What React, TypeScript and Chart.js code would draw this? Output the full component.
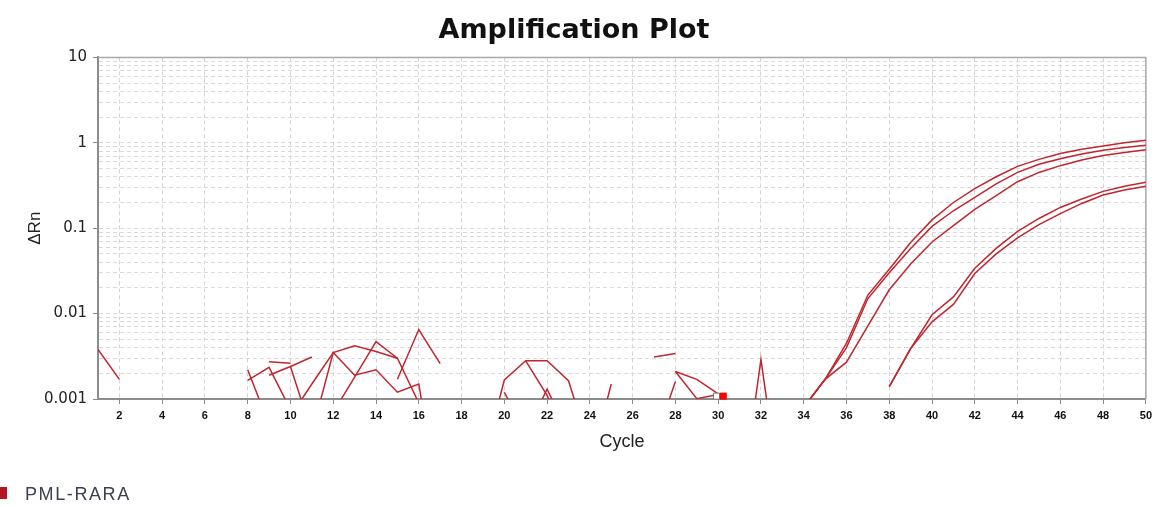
import { useEffect, useRef } from "react";
import { Chart, registerables } from "chart.js";

Chart.register(...registerables);

const _ = null;

// Cycle numbers (x axis)
const cycles = [
  1, 2, 3, 4, 5, 6, 7, 8, 9, 10,
  11, 12, 13, 14, 15, 16, 17, 18, 19, 20,
  21, 22, 23, 24, 25, 26, 27, 28, 29, 30,
  31, 32, 33, 34, 35, 36, 37, 38, 39, 40,
  41, 42, 43, 44, 45, 46, 47, 48, 49, 50,
];

// ΔRn per cycle for each well (null = no positive value, left as a gap)
const wellA = [
  _, _, _, _, _, _, _, 0.0022, 0.0005, 0.00063,
  0.0015, 0.0035, 0.0042, 0.0036, 0.003, _, _, _, 0.00018, 0.00167,
  0.0028, 0.0028, 0.00164, 0.00026, _, _, _, 0.0021, 0.00101, 0.00113,
  _, _, _, 0.0008, 0.0017, 0.0045, 0.0165, 0.033, 0.068, 0.125,
  0.2, 0.29, 0.4, 0.53, 0.64, 0.75, 0.84, 0.92, 1.0, 1.07,
];

const wellB = [
  _, _, _, _, _, _, _, 0.00165, 0.00235, 0.00075,
  _, 0.0007, 0.0018, 0.0047, 0.003, 0.0009, _, _, _, _,
  0.0028, 0.0011, 0.0003, 0.00016, 0.0015, _, _, _, _, _,
  0.000045, 0.0029, 0.00005, 0.0008, 0.0017, 0.004, 0.015, 0.03, 0.058, 0.105,
  0.16, 0.23, 0.33, 0.45, 0.56, 0.65, 0.74, 0.82, 0.88, 0.935,
];

const wellC = [
  0.0038, 0.0017, _, _, _, _, _, _, 0.00273, 0.00262,
  _, _, _, _, _, _, _, _, _, _,
  0.0004, 0.0013, 0.0004, _, _, _, 0.0031, 0.0034, _, _,
  _, _, _, 0.0008, 0.0017, 0.0027, 0.0072, 0.019, 0.038, 0.069,
  0.107, 0.166, 0.24, 0.35, 0.45, 0.54, 0.63, 0.71, 0.77, 0.83,
];

const wellD = [
  _, _, _, _, _, _, _, _, 0.0019, 0.0024,
  0.0031, _, _, _, 0.0017, 0.0065, 0.0026, _, _, 0.0012,
  0.0004, _, _, _, _, _, 0.0003, 0.0016, _, _,
  _, _, _, _, _, _, _, 0.0014, 0.0039, 0.0097,
  0.0157, 0.034, 0.058, 0.092, 0.13, 0.175, 0.22, 0.27, 0.31, 0.345,
];

const wellE = [
  _, _, _, _, _, _, _, _, _, 0.0024,
  0.0004, 0.0035, 0.0019, 0.0022, 0.0012, 0.0015, 0.00005, _, _, _,
  _, _, _, _, _, _, _, 0.0021, 0.0017, 0.00115,
  _, _, _, _, _, _, _, 0.0014, 0.0039, 0.008,
  0.0128, 0.0295, 0.05, 0.077, 0.11, 0.148, 0.195, 0.245, 0.28, 0.31,
];

const wells = [wellA, wellB, wellC, wellD, wellE];
const targetName = "PML-RARA";

// Axis ticks
const xTicks = [2, 4, 6, 8, 10, 12, 14, 16, 18, 20, 22, 24, 26, 28, 30, 32, 34, 36, 38, 40, 42, 44, 46, 48, 50];
const yDecades = [0.001, 0.01, 0.1, 1, 10];
const yDecadeLabels = ["0.001", "0.01", "0.1", "1", "10"];
const yMinorSteps = [2, 3, 4, 5, 6, 7, 8, 9];

// Threshold handle markers on the cycle axis
const markerCycles = [29.92, 30.24];
const markerValues = [0.00108, 0.00108];

const LINE_COLOR = "#c0262f";
const LEGEND_COLOR = "#b3161f";

type TickObj = { value: number; major: boolean; label: string };

function buildYTicks(): TickObj[] {
  const out: TickObj[] = [];
  yDecades.forEach((d, i) => {
    out.push({ value: d, major: true, label: yDecadeLabels[i] });
    if (i < yDecades.length - 1) {
      yMinorSteps.forEach((m) => out.push({ value: d * m, major: false, label: "" }));
    }
  });
  return out;
}

const plotFrame = {
  id: "plotFrame",
  beforeDatasetsDraw(chart: any) {
    const { ctx, chartArea } = chart;
    const { left, right, top, bottom } = chartArea;
    ctx.save();
    ctx.strokeStyle = "#a8a8a8";
    ctx.lineWidth = 1.5;
    ctx.beginPath();
    ctx.moveTo(left, top);
    ctx.lineTo(right, top);
    ctx.lineTo(right, bottom);
    ctx.stroke();
    ctx.restore();
  },
};

export default function App() {
  const canvasRef = useRef<HTMLCanvasElement | null>(null);

  useEffect(() => {
    const canvas = canvasRef.current;
    if (!canvas) return;

    const lineSets = wells.map((vals) => ({
      type: "line" as const,
      label: targetName,
      data: cycles.map((c, i) => ({ x: c, y: vals[i] })),
      borderColor: LINE_COLOR,
      backgroundColor: LINE_COLOR,
      borderWidth: 1.5,
      pointRadius: 0,
      pointHoverRadius: 0,
      spanGaps: false,
      fill: false,
      tension: 0,
      clip: 0,
      order: 1,
    }));

    const markerSets = [
      {
        type: "scatter" as const,
        label: "baseline",
        data: [{ x: markerCycles[0], y: markerValues[0] }],
        pointStyle: "rect",
        pointRadius: 4.3,
        backgroundColor: "#ffffff",
        borderColor: "#777777",
        borderWidth: 1,
        clip: false,
        order: -1,
      },
      {
        type: "scatter" as const,
        label: "threshold",
        data: [{ x: markerCycles[1], y: markerValues[1] }],
        pointStyle: "rect",
        pointRadius: 5,
        backgroundColor: "#ff0000",
        borderColor: "#ff0000",
        borderWidth: 0,
        clip: false,
        order: -2,
      },
    ];

    const yTicks = buildYTicks();

    const chart = new Chart(canvas, {
      type: "line",
      data: { datasets: [...lineSets, ...markerSets] as any },
      plugins: [plotFrame],
      options: {
        responsive: false,
        animation: false,
        events: [],
        layout: { padding: { left: 0, right: 9, top: 0, bottom: 0 } },
        plugins: {
          legend: { display: false },
          tooltip: { enabled: false },
          title: {
            display: true,
            text: "Amplification Plot",
            color: "#111111",
            font: { family: "'DejaVu Sans', Verdana, sans-serif", size: 27, weight: "bold" },
            padding: { top: 15, bottom: 10 },
          },
        },
        scales: {
          x: {
            type: "linear",
            min: 1,
            max: 50,
            afterBuildTicks: (scale: any) => {
              scale.ticks = xTicks.map((v) => ({ value: v }));
            },
            afterFit: (scale: any) => {
              scale.height = 108;
            },
            grid: {
              color: "#d4d4d4",
              lineWidth: 1,
              drawTicks: true,
              tickLength: 5,
              tickColor: "#8a8a8a",
              tickWidth: 1,
            },
            border: { display: true, color: "#8c8c8c", width: 2, dash: [4, 3] },
            ticks: {
              autoSkip: false,
              maxRotation: 0,
              padding: 5,
              color: "#111111",
              font: { family: "'Liberation Sans', Arial, sans-serif", size: 11, weight: "bold" },
              callback: (v: any) => String(v),
            },
            title: {
              display: true,
              text: "Cycle",
              color: "#222222",
              font: { family: "'Liberation Sans', Arial, sans-serif", size: 18 },
              padding: { top: 0, bottom: 54 },
            },
          },
          y: {
            type: "logarithmic",
            min: 0.001,
            max: 10,
            afterBuildTicks: (scale: any) => {
              scale.ticks = yTicks.map((t) => ({ ...t }));
            },
            afterFit: (scale: any) => {
              scale.width = 98;
            },
            grid: {
              color: "#d9d9d9",
              lineWidth: 1,
              drawTicks: true,
              tickLength: 5,
              tickColor: (ctx: any) => (ctx.tick && ctx.tick.major ? "#8a8a8a" : "rgba(0,0,0,0)"),
              tickWidth: 1,
            },
            border: { display: true, color: "#8c8c8c", width: 2, dash: [4, 3] },
            ticks: {
              autoSkip: false,
              padding: 6,
              color: "#222222",
              font: { family: "'DejaVu Sans', Verdana, sans-serif", size: 15 },
              callback: (_v: any, i: number, ticks: any[]) => (ticks[i] && ticks[i].major ? ticks[i].label : ""),
            },
            title: {
              display: true,
              text: "ΔRn",
              color: "#222222",
              font: { family: "'Liberation Sans', Arial, sans-serif", size: 17 },
              padding: { top: 25, bottom: 0 },
            },
          },
        },
      } as any,
    });

    return () => chart.destroy();
  }, []);

  return (
    <div style={{ position: "absolute", left: 0, top: 0, width: 1157, height: 507, background: "#ffffff", overflow: "hidden" }}>
      <canvas ref={canvasRef} width={1157} height={507} style={{ display: "block" }} />
      <div style={{ position: "absolute", left: -5, top: 487, width: 12, height: 12, background: LEGEND_COLOR }} />
      <div
        style={{
          position: "absolute",
          left: 25,
          top: 484.7,
          lineHeight: "18px",
          fontFamily: "'Liberation Sans', Arial, sans-serif",
          fontSize: 18,
          letterSpacing: "1.6px",
          color: "#3b4150",
          whiteSpace: "nowrap",
        }}
      >
        {targetName}
      </div>
    </div>
  );
}
